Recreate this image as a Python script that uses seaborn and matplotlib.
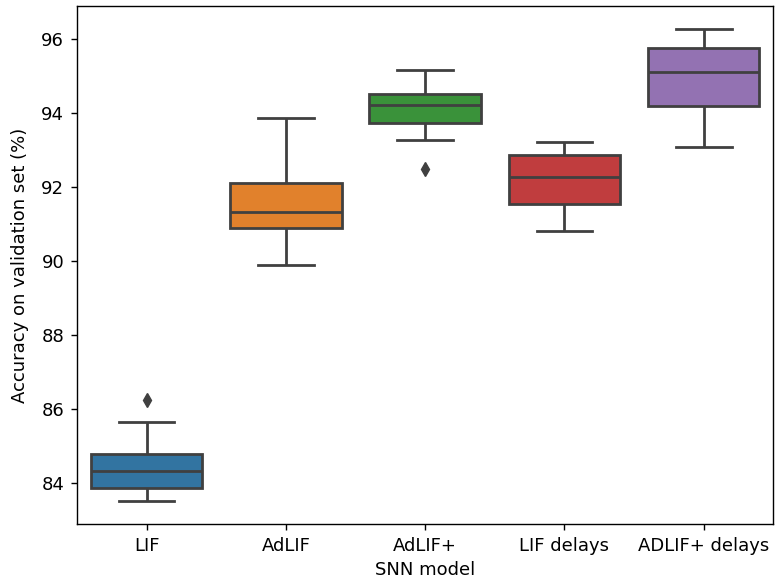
import pandas as pd
import matplotlib
matplotlib.use("Agg")
import matplotlib.pyplot as plt
import seaborn as sns

# box stats, one list per model
models = ["LIF", "AdLIF", "AdLIF+", "LIF delays", "ADLIF+ delays"]
lif = [83.51, 83.85, 83.85, 84.32, 84.32, 84.79, 84.79, 85.63, 86.23]
adlif = [89.88, 90.88, 91.32, 92.09, 93.85]
adlif_plus = [92.48, 93.25, 93.72, 93.72, 94.22, 94.22, 94.51, 94.51, 95.14]
lif_delays = [90.81, 91.53, 92.26, 92.85, 93.20]
adlif_plus_delays = [93.07, 94.18, 95.10, 95.74, 96.25]

values = [lif, adlif, adlif_plus, lif_delays, adlif_plus_delays]
rows = []
for name, vals in zip(models, values):
    for v in vals:
        rows.append({"model": name, "acc": v})
df = pd.DataFrame(rows)

plt.rcParams["font.family"] = ["DejaVu Sans"]
plt.rcParams["font.size"] = 13
plt.rcParams["axes.linewidth"] = 1.0
plt.rcParams["xtick.major.size"] = 4.2
plt.rcParams["ytick.major.size"] = 4.2
plt.rcParams["xtick.major.width"] = 1.0
plt.rcParams["ytick.major.width"] = 1.0
plt.rcParams["xtick.major.pad"] = 5
plt.rcParams["ytick.major.pad"] = 5

fig = plt.figure(figsize=(7.76, 5.86), dpi=100)
ax = fig.add_axes([0.0992, 0.1053, 0.8974, 0.885])

palette = plt.get_cmap("tab10").colors[:5]
sns.boxplot(data=df, x="model", y="acc", hue="model", order=models,
            palette=list(palette), saturation=0.75, legend=False,
            linecolor=".25", linewidth=2.0, width=0.8, fliersize=7,
            flierprops={"marker": "d", "markerfacecolor": ".25",
                        "markeredgecolor": ".25"},
            ax=ax)

ax.set_ylim(82.88, 96.89)
ax.set_xlim(-0.5, 4.5)
ax.set_yticks([84, 86, 88, 90, 92, 94, 96])
ax.set_xlabel("SNN model", labelpad=4)
ax.set_ylabel("Accuracy on validation set (%)", labelpad=9)

fig.savefig("out.png", dpi=100)
